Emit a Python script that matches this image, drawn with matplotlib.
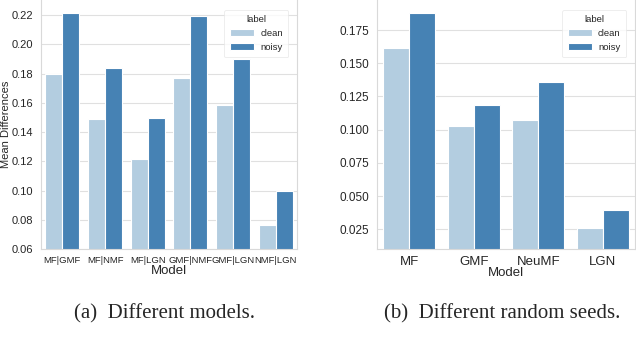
import numpy as np
import matplotlib
matplotlib.use("Agg")
import matplotlib.pyplot as plt
import seaborn as sns

sns.set_style("whitegrid")
plt.rcParams['font.family'] = ['Liberation Sans', 'DejaVu Sans']

# (a) different models
pairs = ['MF|GMF', 'MF|NMF', 'MF|LGN', 'GMF|NMF', 'GMF|LGN', 'NMF|LGN']
pairs_clean = [0.1797, 0.149, 0.1217, 0.177, 0.1585, 0.0767]
pairs_noisy = [0.2213, 0.1838, 0.1497, 0.2195, 0.1898, 0.0998]

# (b) different random seeds
models = ['MF', 'GMF', 'NeuMF', 'LGN']
seeds_clean = [0.1617, 0.1028, 0.1073, 0.0262]
seeds_noisy = [0.1880, 0.1186, 0.1359, 0.0396]

labels = ['clean', 'noisy']
colors = ['#b3cde0', '#4682b4']

W, H = 636, 360
fig = plt.figure(figsize=(W / 100, H / 100), dpi=100)


def draw(ax, cats, clean, noisy, ylim, xfs, yfs):
    x = np.arange(len(cats))
    for i, (vals, lab) in enumerate(zip([clean, noisy], labels)):
        ax.bar(x - 0.2 + 0.4 * i, vals, width=0.4, color=colors[i],
               edgecolor='white', linewidth=0.8, label=lab)
    ax.set_xticks(x)
    ax.set_xticklabels(cats, fontsize=xfs, color='#262626')
    ax.set_xlim(-0.5, len(cats) - 0.5)
    ax.set_ylim(*ylim)
    ax.tick_params(axis='y', labelsize=yfs, colors='#262626', pad=2)
    ax.tick_params(axis='x', pad=1.5)
    ax.grid(axis='x', visible=False)
    ax.grid(axis='y', color='#e0e0e0', linewidth=0.8)
    ax.spines['top'].set_visible(False)
    for s in ['left', 'right', 'bottom']:
        ax.spines[s].set_color('#d9d9d9')
    leg = ax.legend(title='label', loc='upper right', fontsize=6.8,
                    title_fontsize=6.8, frameon=True, borderpad=0.6,
                    handlelength=2.5, handletextpad=0.7, labelspacing=0.5,
                    bbox_to_anchor=(0.985, 0.98))
    leg.get_frame().set_edgecolor('#e6e6e6')
    leg.get_frame().set_linewidth(0.6)


bottom = 1 - 249 / H
ax1 = fig.add_axes([41 / W, bottom, 256 / W, 1 - bottom])
draw(ax1, pairs, pairs_clean, pairs_noisy, (0.06, 0.2303), 6.8, 8.0)
ax1.set_yticks(np.arange(0.06, 0.221, 0.02))
ax1.set_ylabel('Mean Differences', fontsize=8.0, color='#262626')
ax1.yaxis.set_label_coords(-30 / 256, 0.5)
ax1.set_xlabel('Model', fontsize=9.5, color='#262626', labelpad=0)

ax2 = fig.add_axes([377 / W, bottom, 258 / W, 1 - bottom])
draw(ax2, models, seeds_clean, seeds_noisy, (0.0102, 0.1976), 9.5, 8.5)
ax2.set_yticks(np.arange(0.025, 0.176, 0.025))
ax2.set_yticklabels(['%.3f' % v for v in np.arange(0.025, 0.176, 0.025)])
ax2.set_xlabel('Model', fontsize=9.5, color='#262626', labelpad=-1)

fig.text(165 / W, 1 - 314 / H, '(a)  Different models.', ha='center',
         va='center', fontsize=15, family='Liberation Serif')
fig.text(502 / W, 1 - 314 / H, '(b)  Different random seeds.', ha='center',
         va='center', fontsize=15, family='Liberation Serif')

fig.savefig('out.png', dpi=100)
